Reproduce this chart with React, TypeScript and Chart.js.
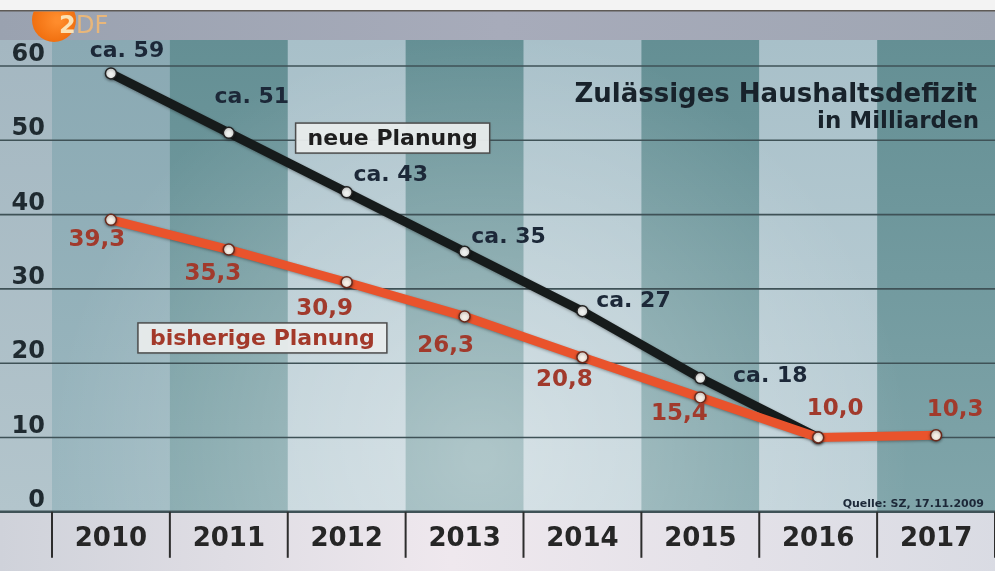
import React, { useEffect, useRef } from "react";
import { Chart, registerables } from "chart.js";

Chart.register(...registerables);

const years = ["2010", "2011", "2012", "2013", "2014", "2015", "2016", "2017"];
const neuePlanung: (number | null)[] = [59, 51, 43, 35, 27, 18, 10, null];
const bisherigePlanung = [39.3, 35.3, 30.9, 26.3, 20.8, 15.4, 10.0, 10.3];
const neueLabels = ["ca. 59", "ca. 51", "ca. 43", "ca. 35", "ca. 27", "ca. 18", "", ""];
const bisherigeLabels = ["39,3", "35,3", "30,9", "26,3", "20,8", "15,4", "10,0", "10,3"];
const yTicks = [0, 10, 20, 30, 40, 50, 60];
const titleLines = ["Zulässiges Haushaltsdefizit", "in Milliarden"];
const seriesNames = ["neue Planung", "bisherige Planung"];
const sourceText = "Quelle: SZ, 17.11.2009";

// label placement offsets (px) relative to each point
const neueOffsets = [[16, -22], [23, -36], [44, -17], [44, -14], [51, -10], [70, -2], [0, 0], [0, 0]];
const bisherigeOffsets = [[-14, 20], [-16, 25], [-22, 27], [-19, 30], [-18, 23], [-21, 17], [17, -28], [19, -25]];

const FONT = "'DejaVu Sans', 'Liberation Sans', sans-serif";

function txt(ctx: CanvasRenderingContext2D, s: string, x: number, y: number, size: number, color: string, align: CanvasTextAlign = "center", base: CanvasTextBaseline = "middle") {
  ctx.save();
  ctx.font = `bold ${size}px ${FONT}`;
  ctx.fillStyle = color;
  ctx.textAlign = align;
  ctx.textBaseline = base;
  ctx.fillText(s, x, y);
  ctx.restore();
}

const backgroundPlugin = {
  id: "zdfBackground",
  beforeDraw(chart: any) {
    const ctx: CanvasRenderingContext2D = chart.ctx;
    const W = chart.width;
    const H = chart.height;
    const ca = chart.chartArea;
    const xs = chart.scales.x;
    const ys = chart.scales.y;
    const y0 = ys.getPixelForValue(0);
    const bandTop = ys.getPixelForValue(63.5);
    const half = (xs.getPixelForValue(1) - xs.getPixelForValue(0)) / 2;

    ctx.save();
    ctx.fillStyle = "#f3f3f3";
    ctx.fillRect(0, 0, W, H);
    const tg = ctx.createLinearGradient(0, 0, W, 0);
    tg.addColorStop(0, "#9aa2b0");
    tg.addColorStop(0.5, "#a7abba");
    tg.addColorStop(1, "#9fa6b3");
    ctx.fillStyle = tg;
    ctx.fillRect(0, 11, W, bandTop - 11);
    ctx.fillStyle = "#5e5a56";
    ctx.fillRect(0, 10, W, 1.5);

    const lg = ctx.createLinearGradient(0, bandTop, 0, y0);
    lg.addColorStop(0, "#a4b7c1");
    lg.addColorStop(1, "#b3c5cc");
    ctx.fillStyle = lg;
    ctx.fillRect(0, bandTop, ca.left, y0 - bandTop);

    for (let i = 0; i < years.length; i++) {
      const cx = xs.getPixelForValue(i);
      const g = ctx.createLinearGradient(0, bandTop, 0, y0);
      if (i === 0) {
        g.addColorStop(0, "#8aa9b3");
        g.addColorStop(1, "#9cb8c0");
      } else if (i % 2 === 1) {
        g.addColorStop(0, "#648f94");
        g.addColorStop(1, "#80a5aa");
      } else {
        g.addColorStop(0, "#a8c0c9");
        g.addColorStop(1, "#bfd1d8");
      }
      ctx.fillStyle = g;
      ctx.fillRect(cx - half, bandTop, half * 2 + 0.5, y0 - bandTop);
    }
    ctx.save();
    ctx.beginPath();
    ctx.rect(0, bandTop, W, y0 - bandTop);
    ctx.clip();
    const rg = ctx.createRadialGradient(480, 460, 10, 480, 460, 430);
    rg.addColorStop(0, "rgba(255,255,255,0.38)");
    rg.addColorStop(0.6, "rgba(255,255,255,0.15)");
    rg.addColorStop(1, "rgba(255,255,255,0)");
    ctx.fillStyle = rg;
    ctx.fillRect(0, bandTop, W, y0 - bandTop);
    ctx.restore();

    const xg = ctx.createLinearGradient(0, 0, W, 0);
    xg.addColorStop(0, "#cfd2da");
    xg.addColorStop(0.45, "#efe8ee");
    xg.addColorStop(1, "#d9dbe3");
    ctx.fillStyle = xg;
    ctx.fillRect(0, y0, W, H - y0);

    ctx.strokeStyle = "#3f5257";
    for (const v of yTicks) {
      const py = ys.getPixelForValue(v);
      ctx.lineWidth = v === 0 ? 2.5 : 1.6;
      ctx.beginPath();
      ctx.moveTo(0, py);
      ctx.lineTo(W, py);
      ctx.stroke();
    }
    ctx.strokeStyle = "#2d2d2d";
    ctx.lineWidth = 2;
    for (let i = 0; i <= years.length; i++) {
      const px = xs.getPixelForValue(0) - half + i * half * 2;
      ctx.beginPath();
      ctx.moveTo(px, y0);
      ctx.lineTo(px, y0 + 46);
      ctx.stroke();
    }
    for (const v of yTicks) {
      const py = ys.getPixelForValue(v);
      txt(ctx, String(v), 45, py - 5, 24, "#1f2a30", "right", "alphabetic");
    }
    ctx.restore();
  },
  beforeDatasetsDraw(chart: any) {
    const ctx = chart.ctx;
    ctx.save();
    ctx.shadowColor = "rgba(0,0,0,0.35)";
    ctx.shadowBlur = 3;
    ctx.shadowOffsetY = 1;
  },
  afterDatasetsDraw(chart: any) {
    chart.ctx.restore();
  },
};

const overlayPlugin = {
  id: "zdfOverlay",
  afterDraw(chart: any) {
    const ctx: CanvasRenderingContext2D = chart.ctx;
    const xs = chart.scales.x;
    const ys = chart.scales.y;
    const metaOrange = chart.getDatasetMeta(0);
    const metaBlack = chart.getDatasetMeta(1);

    metaBlack.data.forEach((pt: any, i: number) => {
      const s = neueLabels[i];
      if (!s || neuePlanung[i] == null) return;
      txt(ctx, s, pt.x + neueOffsets[i][0], pt.y + neueOffsets[i][1], 22, "#1c2838");
    });
    metaOrange.data.forEach((pt: any, i: number) => {
      const s = bisherigeLabels[i];
      if (!s) return;
      txt(ctx, s, pt.x + bisherigeOffsets[i][0], pt.y + bisherigeOffsets[i][1], 23, "#a13a2c");
    });

    const box = (label: string, cx: number, cy: number, color: string) => {
      ctx.save();
      ctx.font = `bold 22px ${FONT}`;
      const w = ctx.measureText(label).width + 24;
      const h = 30;
      ctx.shadowColor = "rgba(0,0,0,0.25)";
      ctx.shadowBlur = 3;
      ctx.fillStyle = "rgba(234,238,238,0.95)";
      ctx.fillRect(cx - w / 2, cy - h / 2, w, h);
      ctx.shadowColor = "transparent";
      ctx.strokeStyle = "#4d4d4d";
      ctx.lineWidth = 1.5;
      ctx.strokeRect(cx - w / 2, cy - h / 2, w, h);
      ctx.restore();
      txt(ctx, label, cx, cy + 1, 22, color);
    };
    box(seriesNames[0], xs.getPixelForValue(2.39), ys.getPixelForValue(50.3), "#1e1e1e");
    box(seriesNames[1], xs.getPixelForValue(1.285), ys.getPixelForValue(23.4), "#a3392a");

    txt(ctx, titleLines[0], 977, 102, 26, "#18222b", "right", "alphabetic");
    txt(ctx, titleLines[1], 979, 128, 23, "#18222b", "right", "alphabetic");

    txt(ctx, sourceText, 984, 507, 11, "#1c2838", "right", "alphabetic");

    // ZDF logo
    ctx.save();
    ctx.beginPath();
    ctx.rect(0, 11.5, 200, 60);
    ctx.clip();
    const og = ctx.createRadialGradient(58, 20, 3, 54, 20, 23);
    og.addColorStop(0, "#ff8c2c");
    og.addColorStop(1, "#f06e0e");
    ctx.fillStyle = og;
    ctx.beginPath();
    ctx.ellipse(54, 20, 22, 22, 0, 0, Math.PI * 2);
    ctx.fill();
    ctx.restore();
    ctx.save();
    ctx.font = `bold 24px ${FONT}`;
    ctx.textBaseline = "alphabetic";
    ctx.fillStyle = "#fbe2b6";
    ctx.fillText("2", 59, 33);
    ctx.fillStyle = "rgba(246,186,112,0.85)";
    ctx.font = `24px ${FONT}`;
    ctx.fillText("DF", 76, 33);
    ctx.restore();
  },
};

export default function App() {
  const ref = useRef<HTMLCanvasElement>(null);
  useEffect(() => {
    const canvas = ref.current;
    if (!canvas) return;
    const chart = new Chart(canvas, {
      type: "line",
      data: {
        labels: years,
        datasets: [
          {
            label: seriesNames[1],
            data: bisherigePlanung,
            borderColor: "#e9532c",
            borderWidth: 9,
            borderCapStyle: "round",
            pointRadius: 5.5,
            pointHoverRadius: 5.5,
            pointBackgroundColor: "#f5efe6",
            pointBorderColor: "#6a2a1c",
            pointBorderWidth: 1.5,
            tension: 0,
          },
          {
            label: seriesNames[0],
            data: neuePlanung,
            borderColor: "#161b1b",
            borderWidth: 9,
            borderCapStyle: "round",
            pointRadius: 5.5,
            pointHoverRadius: 5.5,
            pointBackgroundColor: "#eef0ee",
            pointBorderColor: "#222",
            pointBorderWidth: 1.5,
            spanGaps: false,
            tension: 0,
          },
        ],
      },
      options: {
        responsive: false,
        animation: false,
        devicePixelRatio: 1,
        layout: { padding: { top: 66, left: 52, right: 0, bottom: 4 } },
        plugins: {
          legend: { display: false },
          tooltip: { enabled: false },
          title: { display: false },
        },
        scales: {
          x: {
            offset: true,
            grid: { display: false, drawTicks: false },
            border: { display: false },
            ticks: {
              padding: 12,
              color: "#262626",
              font: { family: FONT, weight: "bold", size: 26 },
              maxRotation: 0,
              autoSkip: false,
            },
          },
          y: { display: false, min: 0, max: 60 },
        },
      } as any,
      plugins: [backgroundPlugin, overlayPlugin],
    });
    return () => chart.destroy();
  }, []);
  return (
    <div style={{ position: "fixed", left: 0, top: 0, width: 995, height: 571, overflow: "hidden", background: "#f3f3f3" }}>
      <canvas ref={ref} width={1002} height={571} style={{ display: "block", width: 1002, height: 571 }} />
    </div>
  );
}
